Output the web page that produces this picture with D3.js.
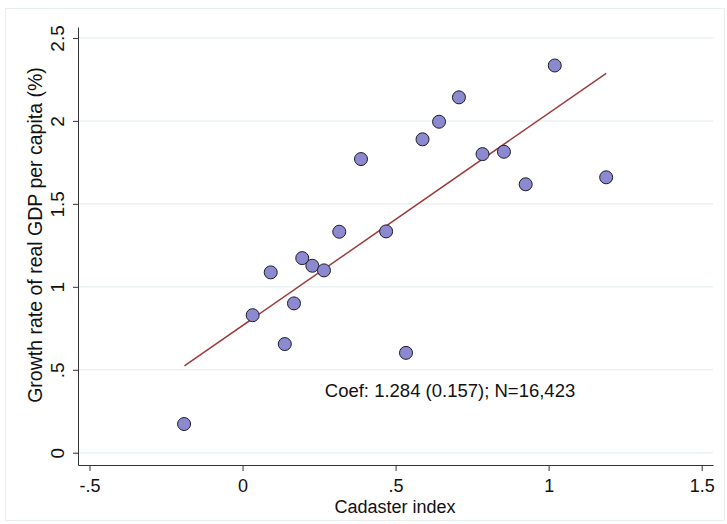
<!DOCTYPE html>
<html>
<head>
<meta charset="utf-8">
<script src="https://cdn.jsdelivr.net/npm/d3@7"></script>
<style>
body { margin: 0; background: #fff; }
text { font-family: "Liberation Sans", Arial, sans-serif; fill: #111; }
</style>
</head>
<body>
<svg></svg>
<script>
// binned scatter: cadaster index vs growth
var cadaster = [-0.191, 0.033, 0.092, 0.138, 0.168, 0.195, 0.228, 0.266, 0.316, 0.387,
                0.469, 0.534, 0.588, 0.642, 0.707, 0.784, 0.854, 0.925, 1.020, 1.188];
var growth = [0.173, 0.829, 1.087, 0.655, 0.900, 1.173, 1.127, 1.099, 1.332, 1.770,
              1.334, 0.602, 1.889, 1.995, 2.142, 1.800, 1.814, 1.618, 2.334, 1.660];
var fitX = [-0.190, 1.188];
var fitY = [0.523, 2.287];
var xTicks = [-0.5, 0, 0.5, 1, 1.5];
var xTickLabels = ["-.5", "0", ".5", "1", "1.5"];
var yTicks = [0, 0.5, 1, 1.5, 2, 2.5];
var yTickLabels = ["0", ".5", "1", "1.5", "2", "2.5"];
var note = "Coef: 1.284 (0.157); N=16,423";

var screen = {width: 727, height: 524};
var plot = {left: 78, right: 713, top: 27, bottom: 465};

var svg = d3.select("svg")
    .attr("width", screen.width)
    .attr("height", screen.height);

svg.append("rect")
    .attr("x", 5.5).attr("y", 8.5)
    .attr("width", 719).attr("height", 512)
    .attr("fill", "#fff")
    .attr("stroke", "#e8eff1");

var xScale = d3.scaleLinear()
    .domain([-0.5376, 1.537])
    .range([plot.left, plot.right]);

var yScale = d3.scaleLinear()
    .domain([-0.074, 2.566])
    .range([plot.bottom, plot.top]);

// gridlines
svg.append("g")
    .selectAll("line")
    .data(yTicks)
    .enter()
    .append("line")
    .attr("x1", plot.left)
    .attr("x2", plot.right)
    .attr("y1", function(d){ return yScale(d) })
    .attr("y2", function(d){ return yScale(d) })
    .attr("stroke", "#eaf2f3")
    .attr("stroke-width", 1.5);

var xAxis = d3.axisBottom(xScale)
    .tickValues(xTicks)
    .tickFormat(function(d, i){ return xTickLabels[i] })
    .tickSize(6)
    .tickSizeOuter(0);

var yAxis = d3.axisLeft(yScale)
    .tickValues(yTicks)
    .tickFormat(function(d, i){ return yTickLabels[i] })
    .tickSize(5)
    .tickSizeOuter(0);

var gx = svg.append("g")
    .attr("transform", "translate(0," + plot.bottom + ")")
    .call(xAxis);
gx.select(".domain").attr("stroke", "#333");
gx.selectAll(".tick line").attr("stroke", "#333");
gx.selectAll("text")
    .attr("font-size", 18)
    .attr("font-family", "Liberation Sans, Arial, sans-serif")
    .attr("fill", "#111")
    .attr("dy", null)
    .attr("y", 27);

var gy = svg.append("g")
    .attr("transform", "translate(" + plot.left + ",0)")
    .call(yAxis);
gy.select(".domain").attr("stroke", "#333");
gy.selectAll(".tick line").attr("stroke", "#333");
gy.selectAll("text")
    .attr("font-size", 19)
    .attr("font-family", "Liberation Sans, Arial, sans-serif")
    .attr("fill", "#111")
    .attr("x", null)
    .attr("dy", null)
    .attr("text-anchor", "middle")
    .attr("transform", "translate(-14,0) rotate(-90)");

// fitted line
svg.append("line")
    .attr("x1", xScale(fitX[0]))
    .attr("y1", yScale(fitY[0]))
    .attr("x2", xScale(fitX[1]))
    .attr("y2", yScale(fitY[1]))
    .attr("stroke", "#9e3b3b")
    .attr("stroke-width", 1.5);

// points
svg.append("g")
    .selectAll("circle")
    .data(cadaster)
    .enter()
    .append("circle")
    .attr("cx", function(d){ return xScale(d) })
    .attr("cy", function(d, i){ return yScale(growth[i]) })
    .attr("r", 6.5)
    .attr("fill", "#8d89d1")
    .attr("stroke", "#1c1c2c")
    .attr("stroke-width", 1);

svg.append("text")
    .attr("x", 450)
    .attr("y", 397)
    .attr("text-anchor", "middle")
    .attr("font-size", 18.5)
    .text(note);

svg.append("text")
    .attr("x", 395)
    .attr("y", 513)
    .attr("text-anchor", "middle")
    .attr("font-size", 18)
    .text("Cadaster index");

svg.append("text")
    .attr("transform", "translate(42,235) rotate(-90)")
    .attr("text-anchor", "middle")
    .attr("font-size", 19.5)
    .text("Growth rate of real GDP per capita (%)");
</script>
</body>
</html>
